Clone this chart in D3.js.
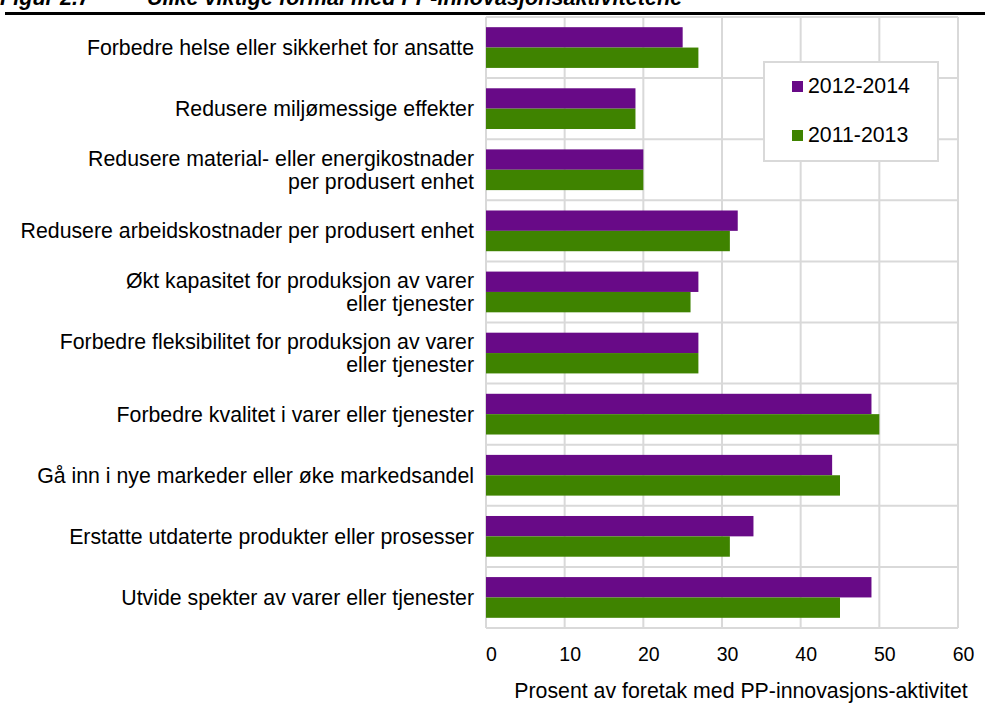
<!DOCTYPE html>
<html>
<head>
<meta charset="utf-8">
<script src="https://cdn.jsdelivr.net/npm/d3@7"></script>
<style>
  body { margin: 0; background: #fff; }
  svg text { font-family: "Liberation Sans", Arial, sans-serif; fill: #000; }
</style>
</head>
<body>
<div id="chart"></div>
<script>
// categories, top to bottom (lines split where the label wraps)
var categories = [
  ["Forbedre helse eller sikkerhet for ansatte"],
  ["Redusere miljømessige effekter"],
  ["Redusere material- eller energikostnader", "per produsert enhet"],
  ["Redusere arbeidskostnader per produsert enhet"],
  ["Økt kapasitet for produksjon av varer", "eller tjenester"],
  ["Forbedre fleksibilitet for produksjon av varer", "eller tjenester"],
  ["Forbedre kvalitet i varer eller tjenester"],
  ["Gå inn i nye markeder eller øke markedsandel"],
  ["Erstatte utdaterte produkter eller prosesser"],
  ["Utvide spekter av varer eller tjenester"]
]
var series = ["2012-2014", "2011-2013"]
var values2012_2014 = [25, 19, 20, 32, 27, 27, 49, 44, 34, 49]
var values2011_2013 = [27, 19, 20, 31, 26, 27, 50, 45, 31, 45]
var xTicks = [0, 10, 20, 30, 40, 50, 60]

var colors = ['#680a87', '#3f8300']
var gridColor = '#d9d9d9'

// plot box (note: "top" is taken by window.top, so use other names)
var width = 985, height = 709
var plotLeft = 486, plotRight = 958, plotTop = 17, plotBottom = 628

var svg = d3.select('#chart').append('svg')
    .attr('width', width)
    .attr('height', height)

// cut-off figure title and rule
svg.append('text')
    .attr('x', 0).attr('y', 5)
    .style('font-size', '21.6px')
    .style('font-weight', 'bold')
    .style('font-style', 'italic')
    .text('Figur 2.7')
svg.append('text')
    .attr('x', 147).attr('y', 5)
    .style('font-size', '21.6px')
    .style('font-weight', 'bold')
    .style('font-style', 'italic')
    .text('Ulike viktige formål med PP-innovasjonsaktivitetene')
svg.append('rect')
    .attr('x', 5).attr('y', 12)
    .attr('width', width - 5).attr('height', 3)
    .attr('fill', '#000')

var x = d3.scaleLinear().domain([0, 60]).range([plotLeft, plotRight])
var y = d3.scaleBand().domain(d3.range(categories.length)).range([plotTop, plotBottom])
var inner = d3.scaleBand().domain(series).range([0, y.bandwidth()]).paddingOuter(0.5).paddingInner(0)

// grid
var grid = svg.append('g')
    .attr('stroke', gridColor)
    .attr('stroke-width', 2)
grid.selectAll('.v')
    .data(xTicks)
    .enter().append('line')
    .attr('x1', function (d) { return x(d) }).attr('x2', function (d) { return x(d) })
    .attr('y1', plotTop).attr('y2', plotBottom)
grid.selectAll('.h')
    .data(d3.range(categories.length + 1))
    .enter().append('line')
    .attr('x1', plotLeft).attr('x2', plotRight)
    .attr('y1', function (d) { return plotTop + d * y.step() })
    .attr('y2', function (d) { return plotTop + d * y.step() })

// bars
var data = categories.map(function (c, i) {
  return { i: i, vals: [values2012_2014[i], values2011_2013[i]] }
})
var rows = svg.selectAll('.row')
    .data(data)
    .enter().append('g')
    .attr('transform', function (d) { return 'translate(0,' + y(d.i) + ')' })
rows.selectAll('rect')
    .data(function (d) { return d.vals.map(function (v, k) { return { s: series[k], v: v, k: k } }) })
    .enter().append('rect')
    .attr('x', x(0))
    .attr('y', function (d) { return inner(d.s) })
    .attr('width', function (d) { return x(d.v) - x(0) })
    .attr('height', inner.bandwidth())
    .attr('fill', function (d) { return colors[d.k] })

// category labels
var labels = svg.selectAll('.lab')
    .data(categories)
    .enter().append('text')
    .attr('text-anchor', 'end')
    .style('font-size', '21.3px')
    .attr('transform', function (d, i) { return 'translate(474,' + (y(i) + y.bandwidth() / 2) + ')' })
labels.selectAll('tspan')
    .data(function (d) { return d.map(function (t, k) { return { t: t, k: k, n: d.length } }) })
    .enter().append('tspan')
    .attr('x', 0)
    .attr('y', function (d) { return (d.k - (d.n - 1) / 2) * 23 + 7.5 })
    .text(function (d) { return d.t })

// x axis labels
var xAxis = svg.append('g')
    .attr('transform', 'translate(5,' + plotBottom + ')')
    .call(d3.axisBottom(x).tickValues(xTicks).tickSize(0).tickPadding(19))
xAxis.select('.domain').remove()
xAxis.selectAll('text')
    .style('font-size', '19.5px')
    .style('font-family', '"Liberation Sans", Arial, sans-serif')
    .attr('fill', '#000')

svg.append('text')
    .attr('x', 741).attr('y', 698)
    .attr('text-anchor', 'middle')
    .style('font-size', '21.3px')
    .text('Prosent av foretak med PP-innovasjons-aktivitet')

// legend
var legend = svg.append('g')
legend.append('rect')
    .attr('x', 764).attr('y', 62)
    .attr('width', 174).attr('height', 99)
    .attr('fill', '#fff')
    .attr('stroke', gridColor)
    .attr('stroke-width', 2)
var items = legend.selectAll('.item')
    .data(series)
    .enter().append('g')
    .attr('transform', function (d, i) { return 'translate(792,' + (93 + i * 49) + ')' })
items.append('rect')
    .attr('x', 0).attr('y', -12)
    .attr('width', 11).attr('height', 11)
    .attr('fill', function (d, i) { return colors[i] })
items.append('text')
    .attr('x', 16).attr('y', 0)
    .style('font-size', '21.3px')
    .text(function (d) { return d })
</script>
</body>
</html>
